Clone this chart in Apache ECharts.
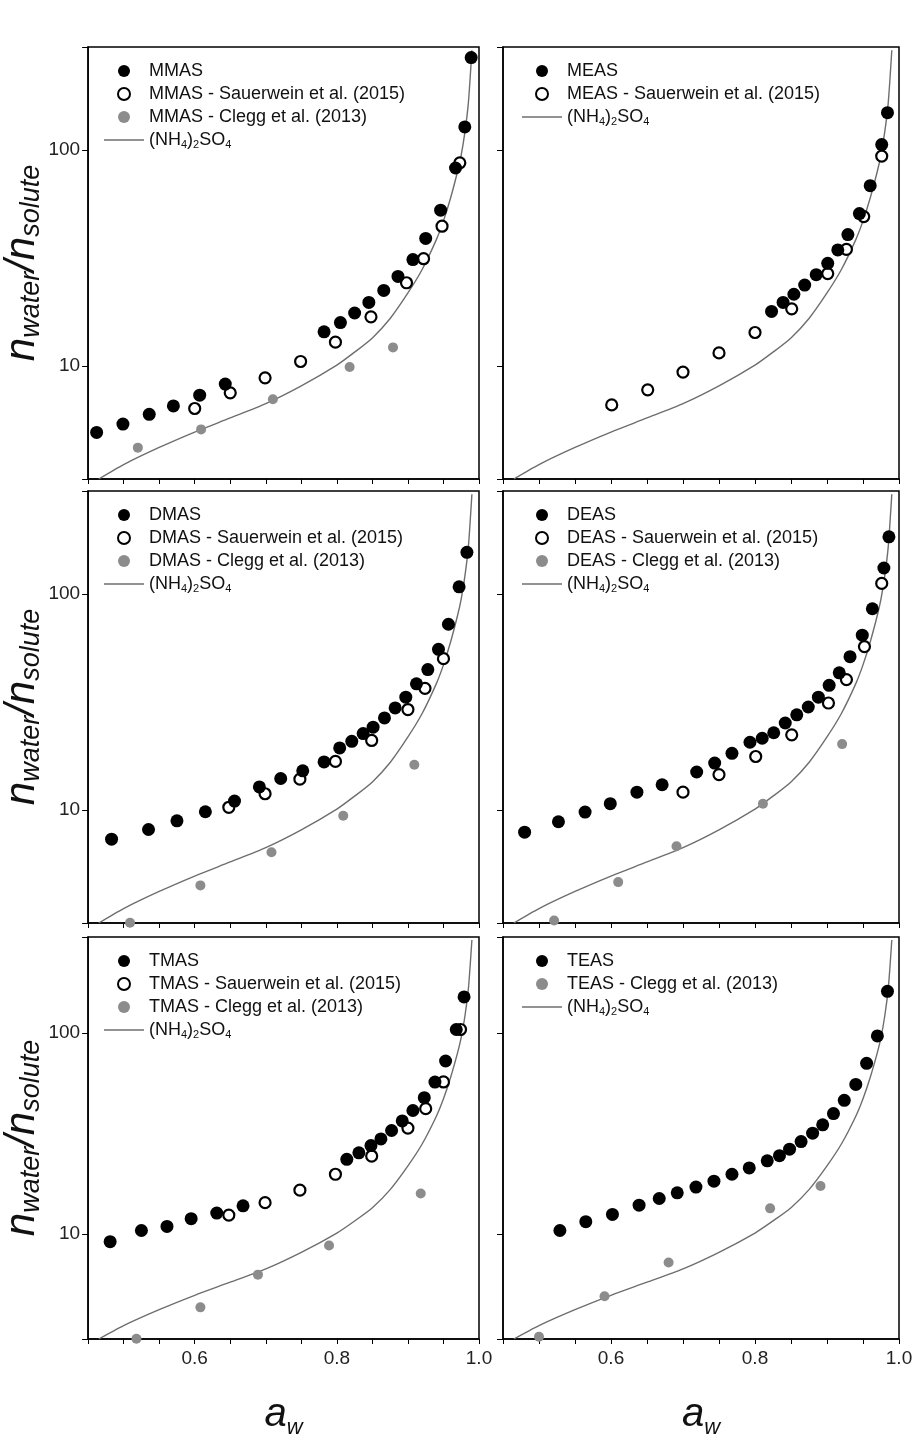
<!DOCTYPE html>
<html lang="en">
<head>
    <meta charset="UTF-8">
    <title>n_water / n_solute vs a_w</title>
    <script src="https://cdn.jsdelivr.net/npm/echarts@6/dist/echarts.min.js"></script>
    <style>
        html, body { margin: 0; padding: 0; background: #fff; }
        #main { width: 917px; height: 1440px; }
    </style>
</head>
<body>
<div id="main"></div>
<script>
    // ---- data: [a_w, n_water/n_solute] ----
    var ammSulfate = [[0.465,3.0],[0.5,3.5],[0.55,4.2],[0.6,4.95],[0.65,5.75],[0.7,6.7],[0.75,8.1],[0.8,10.1],
        [0.825,11.6],[0.85,13.5],[0.875,16.6],[0.9,21.8],[0.92,28],[0.94,38.5],[0.95,47],[0.96,60],
        [0.97,80],[0.975,95],[0.98,120],[0.985,165],[0.99,290]];

    var mmas = [[0.462,4.93],[0.499,5.39],[0.536,5.98],[0.570,6.54],[0.607,7.33],[0.643,8.25],[0.782,14.4],
        [0.805,15.9],[0.825,17.6],[0.845,19.7],[0.866,22.4],[0.886,26.0],[0.907,31.1],[0.925,39.0],
        [0.946,52.7],[0.967,82.6],[0.980,128],[0.989,268]];
    var mmasS = [[0.600,6.36],[0.650,7.52],[0.699,8.82],[0.749,10.5],[0.798,12.9],[0.848,16.9],[0.898,24.3],
        [0.922,31.4],[0.948,44.4],[0.973,87.3]];
    var mmasC = [[0.520,4.19],[0.609,5.09],[0.710,7.02],[0.818,9.9],[0.879,12.2]];

    var meas = [[0.823,17.9],[0.839,19.7],[0.854,21.5],[0.869,23.7],[0.885,26.5],[0.901,29.9],[0.915,34.5],
        [0.929,40.6],[0.945,50.8],[0.960,68.4],[0.976,106],[0.984,149]];
    var measS = [[0.601,6.61],[0.651,7.76],[0.700,9.38],[0.750,11.5],[0.800,14.3],[0.851,18.4],[0.901,26.8],
        [0.927,34.7],[0.951,49.2],[0.976,93.8]];

    var dmas = [[0.483,7.33],[0.535,8.13],[0.575,8.92],[0.615,9.82],[0.656,11.0],[0.691,12.8],[0.721,14.0],
        [0.752,15.2],[0.782,16.7],[0.804,19.4],[0.821,20.8],[0.837,22.6],[0.851,24.2],[0.867,26.7],
        [0.882,29.7],[0.897,33.3],[0.912,38.4],[0.928,44.7],[0.943,55.5],[0.957,72.5],[0.972,108],[0.983,156]];
    var dmasS = [[0.648,10.3],[0.699,11.9],[0.748,13.9],[0.798,16.8],[0.849,21.0],[0.900,29.2],[0.924,36.6],[0.950,50.2]];
    var dmasC = [[0.509,3.01],[0.608,4.48],[0.708,6.38],[0.809,9.41],[0.909,16.2]];

    var deas = [[0.480,7.9],[0.527,8.83],[0.564,9.79],[0.599,10.7],[0.636,12.1],[0.671,13.1],[0.719,15.0],
        [0.744,16.5],[0.768,18.3],[0.793,20.6],[0.810,21.5],[0.826,22.8],[0.842,25.3],[0.858,27.6],
        [0.874,30.0],[0.888,33.3],[0.903,37.8],[0.917,43.2],[0.932,51.3],[0.949,64.5],[0.963,85.5],
        [0.979,132],[0.986,184]];
    var deasS = [[0.700,12.1],[0.750,14.6],[0.801,17.7],[0.851,22.3],[0.902,31.3],[0.927,40.2],[0.952,57.1],[0.976,112]];
    var deasC = [[0.521,3.08],[0.610,4.64],[0.691,6.80],[0.811,10.7],[0.921,20.2]];

    var tmas = [[0.481,9.15],[0.525,10.4],[0.561,10.9],[0.595,11.9],[0.631,12.7],[0.668,13.8],[0.814,23.5],
        [0.831,25.3],[0.848,27.5],[0.862,29.7],[0.877,32.7],[0.892,36.5],[0.907,41.1],[0.923,47.6],
        [0.938,56.9],[0.953,72.5],[0.968,104],[0.979,151]];
    var tmasS = [[0.648,12.4],[0.699,14.3],[0.748,16.5],[0.798,19.8],[0.849,24.4],[0.900,33.6],[0.925,42.0],
        [0.950,57.0],[0.974,104]];
    var tmasC = [[0.518,3.01],[0.608,4.31],[0.689,6.27],[0.789,8.76],[0.918,15.9]];

    var teas = [[0.529,10.4],[0.565,11.5],[0.602,12.5],[0.639,13.9],[0.667,15.0],[0.692,16.0],[0.718,17.1],
        [0.743,18.3],[0.768,19.8],[0.792,21.3],[0.817,23.1],[0.834,24.5],[0.848,26.4],[0.864,28.8],
        [0.880,31.7],[0.894,34.9],[0.909,39.7],[0.924,46.2],[0.940,55.4],[0.955,70.6],[0.970,96.6],[0.984,161]];
    var teasC = [[0.500,3.08],[0.591,4.9],[0.680,7.2],[0.821,13.4],[0.891,17.3]];

    var panels = [
        {name: 'MMAS', filled: mmas, open: mmasS, gray: mmasC},
        {name: 'MEAS', filled: meas, open: measS, gray: null},
        {name: 'DMAS', filled: dmas, open: dmasS, gray: dmasC},
        {name: 'DEAS', filled: deas, open: deasS, gray: deasC},
        {name: 'TMAS', filled: tmas, open: tmasS, gray: tmasC},
        {name: 'TEAS', filled: teas, open: null, gray: teasC}
    ];
    var lineName = '(NH4)2SO4';
    var font = 'Liberation Sans, Arial, sans-serif';

    var colLeft = [85, 503], colWidth = [394, 396];
    var rowTop = [47, 491, 937], rowHeight = 432;

    var grids = [], xAxes = [], yAxes = [], series = [], legends = [];

    panels.forEach(function (p, i) {
        var col = i % 2, row = Math.floor(i / 2);
        grids.push({
            left: colLeft[col], top: rowTop[row], width: colWidth[col], height: rowHeight,
            show: true, borderColor: '#000', borderWidth: 1.5, backgroundColor: '#fff'
        });
        xAxes.push({
            gridIndex: i, type: 'value', min: 0.45, max: 1.0, interval: 0.05,
            axisLine: {lineStyle: {color: '#000', width: 1.5}},
            axisTick: {show: true, length: 5, lineStyle: {color: '#000'}},
            splitLine: {show: false},
            axisLabel: {
                show: row === 2, fontSize: 19, color: '#222', fontFamily: font, margin: 10,
                formatter: function (v) {
                    var r = Math.round(v * 100);
                    return (r === 60 || r === 80 || r === 100) ? (r / 100).toFixed(1) : '';
                }
            },
            name: row === 2 ? '{a|a}{w|w}' : '',
            nameLocation: 'middle', nameGap: 52,
            nameTextStyle: {
                rich: {
                    a: {fontSize: 40, fontStyle: 'italic', fontFamily: font, color: '#111'},
                    w: {fontSize: 22, fontStyle: 'italic', fontFamily: font, color: '#111', padding: [26, 0, 0, 0]}
                }
            }
        });
        yAxes.push({
            gridIndex: i, type: 'log', logBase: 10, min: 3, max: 300,
            axisLine: {lineStyle: {color: '#000', width: 1.5}},
            axisTick: {show: true, length: 6, lineStyle: {color: '#000'}},
            splitLine: {show: false},
            axisLabel: {
                show: col === 0, fontSize: 19, color: '#222', fontFamily: font, margin: 8,
                formatter: function (v) {
                    var r = Math.round(v);
                    return (r === 10 || r === 100) ? String(r) : '';
                }
            },
            name: col === 0 ? '{n|n}{s|water}{n|/n}{s|solute}' : '',
            nameLocation: 'middle', nameGap: 32, nameRotate: 90,
            nameTextStyle: {
                rich: {
                    n: {fontSize: 42, fontStyle: 'italic', fontFamily: font, color: '#111'},
                    s: {fontSize: 27, fontStyle: 'italic', fontFamily: font, color: '#111', padding: [18, 0, 0, 0]}
                }
            }
        });

        var names = [];
        names.push(p.name);
        series.push({
            name: p.name, type: 'scatter', xAxisIndex: i, yAxisIndex: i, data: p.filled,
            symbolSize: 13, itemStyle: {color: '#000', opacity: 1}, z: 4
        });
        if (p.open) {
            var on = p.name + ' - Sauerwein et al. (2015)';
            names.push(on);
            series.push({
                name: on, type: 'scatter', xAxisIndex: i, yAxisIndex: i, data: p.open,
                symbolSize: 11, itemStyle: {color: '#fff', borderColor: '#000', borderWidth: 2.2, opacity: 1}, z: 3
            });
        }
        if (p.gray) {
            var gn = p.name + ' - Clegg et al. (2013)';
            names.push(gn);
            series.push({
                name: gn, type: 'scatter', xAxisIndex: i, yAxisIndex: i, data: p.gray,
                symbolSize: 10, itemStyle: {color: '#8c8c8c', opacity: 1}, z: 3
            });
        }
        names.push({name: lineName, icon: 'path://M0,0 L40,0 L40,1.4 L0,1.4 Z', itemHeight: 2});
        series.push({
            name: lineName, type: 'line', xAxisIndex: i, yAxisIndex: i, data: ammSulfate,
            smooth: 0.25, showSymbol: false, symbol: 'none',
            lineStyle: {color: '#6e6e6e', width: 1.4}, itemStyle: {color: '#6e6e6e'}, z: 2
        });

        legends.push({
            data: names, orient: 'vertical',
            left: colLeft[col] + 14, top: rowTop[row] + 10,
            itemWidth: 40, itemHeight: 12, itemGap: 5, selectedMode: false,
            textStyle: {
                fontSize: 18, color: '#111', fontFamily: font,
                rich: {
                    t: {fontSize: 18, color: '#111', fontFamily: font},
                    s: {fontSize: 11, color: '#111', fontFamily: font, padding: [10, 0, 0, 0]}
                }
            },
            formatter: function (n) {
                if (n === lineName) return '{t|(NH}{s|4}{t|)}{s|2}{t|SO}{s|4}';
                return n;
            }
        });
    });

    var myChart = echarts.init(document.getElementById('main'));
    myChart.setOption({
        animation: false,
        backgroundColor: '#fff',
        grid: grids, xAxis: xAxes, yAxis: yAxes, legend: legends, series: series
    });
</script>
</body>
</html>
